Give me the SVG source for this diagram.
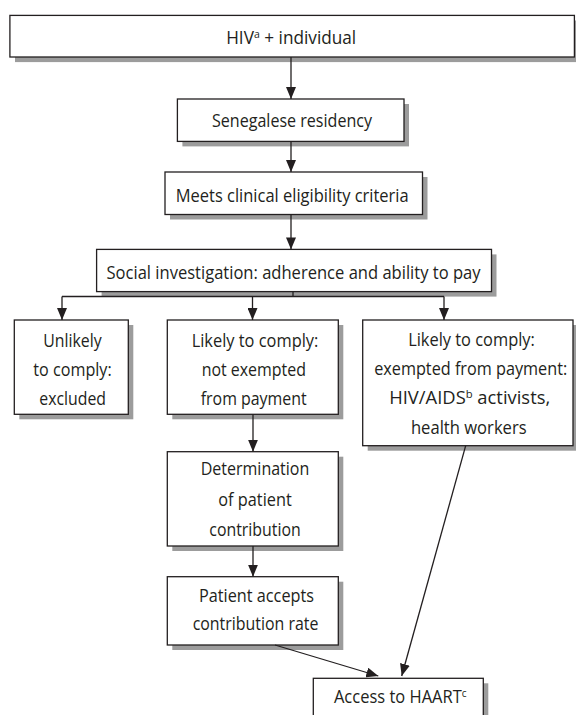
<svg xmlns="http://www.w3.org/2000/svg" width="576" height="715" viewBox="0 0 576 715">
<defs>
<style>
.bg{fill:#ffffff}
.sh{fill:#9c9c9c}
.bx{fill:#ffffff;stroke:#231f20;stroke-width:1.3}
.t{font-family:"Open Sans","Noto Sans","Liberation Sans",sans-serif;font-size:18px;fill:#231f20;text-anchor:middle}
.sup{font-size:11px;baseline-shift:6.5px}
.c{fill:none;stroke:#231f20;stroke-width:1.3}
</style>
<marker id="ah" markerUnits="userSpaceOnUse" markerWidth="12" markerHeight="10" viewBox="0 0 12 10" refX="12" refY="5" orient="auto">
<path d="M0,0 L12,5 L0,10 z" fill="#231f20"/>
</marker>
</defs>
<rect class="bg" x="0" y="0" width="576" height="715"/>

<g id="n1">
<rect class="sh" x="15" y="20.5" width="566" height="41.6"/>
<rect class="bx" x="9.9" y="15.4" width="564.5" height="41.6"/>
<text class="t" x="291.2" y="44" textLength="130" lengthAdjust="spacingAndGlyphs">HIV<tspan class="sup">a</tspan> + individual</text>
</g>

<g id="n2">
<rect class="sh" x="182.4" y="104" width="226.6" height="42.4"/>
<rect class="bx" x="177.4" y="99" width="226.6" height="42.4"/>
<text class="t" x="292" y="126.5" textLength="160" lengthAdjust="spacingAndGlyphs">Senegalese residency</text>
</g>

<g id="n3">
<rect class="sh" x="170" y="177" width="257.5" height="42.5"/>
<rect class="bx" x="165" y="172" width="257.5" height="42.5"/>
<text class="t" x="292.2" y="201.5" textLength="233" lengthAdjust="spacingAndGlyphs">Meets clinical eligibility criteria</text>
</g>

<g id="n4">
<rect class="sh" x="101.6" y="254.4" width="394.9" height="42.2"/>
<rect class="bx" x="96.6" y="249.4" width="394.9" height="42.2"/>
<text class="t" x="293.5" y="279" textLength="374" lengthAdjust="spacingAndGlyphs">Social investigation: adherence and ability to pay</text>
</g>

<g id="n5">
<rect class="sh" x="19.3" y="325" width="114" height="94.3"/>
<rect class="bx" x="14.3" y="320" width="114" height="94.3"/>
<text class="t" x="72.5" y="346.5" textLength="58.4" lengthAdjust="spacingAndGlyphs">Unlikely</text>
<text class="t" x="72.5" y="375.5" textLength="78.4" lengthAdjust="spacingAndGlyphs">to comply:</text>
<text class="t" x="72.7" y="404.5" textLength="66.7" lengthAdjust="spacingAndGlyphs">excluded</text>
</g>

<g id="n6">
<rect class="sh" x="172.3" y="325" width="171" height="94.3"/>
<rect class="bx" x="167.3" y="320" width="171" height="94.3"/>
<text class="t" x="255" y="346.5" textLength="126.7" lengthAdjust="spacingAndGlyphs">Likely to comply:</text>
<text class="t" x="253.8" y="375.5" textLength="104.3" lengthAdjust="spacingAndGlyphs">not exempted</text>
<text class="t" x="253.7" y="404.5" textLength="106" lengthAdjust="spacingAndGlyphs">from payment</text>
</g>

<g id="n7">
<rect class="sh" x="367.7" y="325" width="210.3" height="125.7"/>
<rect class="bx" x="362.7" y="320" width="210.3" height="125.7"/>
<text class="t" x="471.5" y="346" textLength="126.7" lengthAdjust="spacingAndGlyphs">Likely to comply:</text>
<text class="t" x="470.7" y="375" textLength="193" lengthAdjust="spacingAndGlyphs">exempted from payment:</text>
<text class="t" x="469.7" y="404" textLength="161" lengthAdjust="spacingAndGlyphs">HIV/AIDS<tspan class="sup">b</tspan> activists,</text>
<text class="t" x="468.8" y="433.5" textLength="115.7" lengthAdjust="spacingAndGlyphs">health workers</text>
</g>

<g id="n8">
<rect class="sh" x="172.3" y="456.7" width="171" height="94.3"/>
<rect class="bx" x="167.3" y="451.7" width="171" height="94.3"/>
<text class="t" x="255" y="475" textLength="108.6" lengthAdjust="spacingAndGlyphs">Determination</text>
<text class="t" x="255" y="505.5" textLength="73.4" lengthAdjust="spacingAndGlyphs">of patient</text>
<text class="t" x="255" y="536" textLength="91.4" lengthAdjust="spacingAndGlyphs">contribution</text>
</g>

<g id="n9">
<rect class="sh" x="172.3" y="581.7" width="171" height="68.3"/>
<rect class="bx" x="167.3" y="576.7" width="171" height="68.3"/>
<text class="t" x="256.5" y="601.5" textLength="115" lengthAdjust="spacingAndGlyphs">Patient accepts</text>
<text class="t" x="255.5" y="630" textLength="125.7" lengthAdjust="spacingAndGlyphs">contribution rate</text>
</g>

<g id="n10">
<rect class="sh" x="318.3" y="683.3" width="170" height="50"/>
<rect class="bx" x="313.3" y="678.3" width="170" height="50"/>
<text class="t" x="400.3" y="703.3" textLength="132.7" lengthAdjust="spacingAndGlyphs">Access to HAART<tspan class="sup">c</tspan></text>
</g>

<g id="connectors">
<path class="c" d="M291,57 V99" marker-end="url(#ah)"/>
<path class="c" d="M291,141.4 V172" marker-end="url(#ah)"/>
<path class="c" d="M291,214.5 V249.4" marker-end="url(#ah)"/>
<path class="c" d="M293,291.6 V296.5 M62,296.5 H444"/>
<path class="c" d="M62,296.5 V320" marker-end="url(#ah)"/>
<path class="c" d="M252.5,296.5 V320" marker-end="url(#ah)"/>
<path class="c" d="M444,296.5 V320" marker-end="url(#ah)"/>
<path class="c" d="M253,414.3 V451.7" marker-end="url(#ah)"/>
<path class="c" d="M253,546 V576.7" marker-end="url(#ah)"/>
<path class="c" d="M275,645 L378.3,676" marker-end="url(#ah)"/>
<path class="c" d="M465.7,445.7 L401.7,676" marker-end="url(#ah)"/>
</g>
</svg>
